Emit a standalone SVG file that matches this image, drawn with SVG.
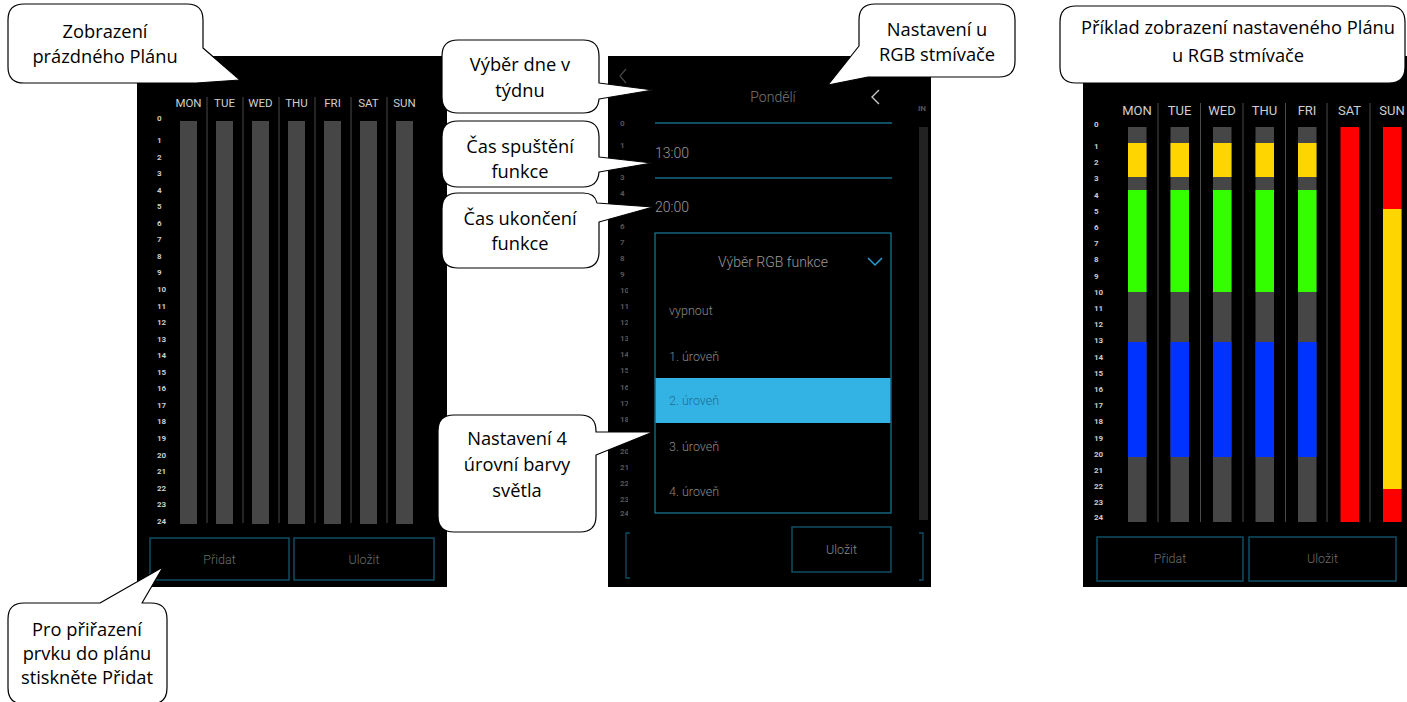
<svg xmlns="http://www.w3.org/2000/svg" width="1407" height="702" viewBox="0 0 1407 702">
<defs>
<style>
.panel{fill:#000}
.hdr{font-family:Roboto,"Liberation Sans",sans-serif;font-size:11.5px;fill:#cfcfcf;text-anchor:middle}
.hdr2{font-family:Roboto,"Liberation Sans",sans-serif;font-size:13px;fill:#cfcfcf;text-anchor:middle}
.hr{font-family:Roboto,"Liberation Sans",sans-serif;font-size:8px;font-weight:bold;fill:#cccccc}
.hrm{font-family:Roboto,"Liberation Sans",sans-serif;font-size:8px;font-weight:bold;fill:#555}
.bar{fill:#464646}
.sep{stroke:#4a4a4a;stroke-width:1}
.btn{fill:none;stroke:#0f4f63;stroke-width:1.5}
.btxt{font-family:Roboto,"Liberation Sans",sans-serif;font-size:12.5px;font-weight:300;fill:#6e6e6e;text-anchor:middle}
.ui{font-family:Roboto,"Liberation Sans",sans-serif;font-size:14px;font-weight:300;fill:#9a9a9a}
.li{font-family:Roboto,"Liberation Sans",sans-serif;font-size:12.5px;font-weight:300;fill:#8a8a8a}
.co{fill:#fff;stroke:#000;stroke-width:1.2;stroke-linejoin:round}
.ct{font-family:"Open Sans","Liberation Sans",sans-serif;font-size:18.3px;fill:#000;text-anchor:middle}
.y{fill:#ffd500}.g{fill:#33ff00}.b{fill:#0033ff}.r{fill:#ff0000}
</style>
<clipPath id="hclip"><rect x="600" y="100" width="28" height="430"/></clipPath>
</defs>
<rect width="1407" height="702" fill="#fff"/>

<!-- LEFT PANEL -->
<g id="panel-empty">
<rect class="panel" x="137" y="56" width="310" height="531"/>
<g>
<text class="hdr" x="188.5" y="107">MON</text>
<text class="hdr" x="224.5" y="107">TUE</text>
<text class="hdr" x="260.5" y="107">WED</text>
<text class="hdr" x="296.5" y="107">THU</text>
<text class="hdr" x="332.5" y="107">FRI</text>
<text class="hdr" x="368.5" y="107">SAT</text>
<text class="hdr" x="404.5" y="107">SUN</text>
</g>
<g>
<line class="sep" x1="207" y1="97" x2="207" y2="523"/>
<line class="sep" x1="243" y1="97" x2="243" y2="523"/>
<line class="sep" x1="279" y1="97" x2="279" y2="523"/>
<line class="sep" x1="315" y1="97" x2="315" y2="523"/>
<line class="sep" x1="351" y1="97" x2="351" y2="523"/>
<line class="sep" x1="387" y1="97" x2="387" y2="523"/>
</g>
<g>
<rect class="bar" x="180" y="121" width="17" height="403"/>
<rect class="bar" x="216" y="121" width="17" height="403"/>
<rect class="bar" x="252" y="121" width="17" height="403"/>
<rect class="bar" x="288" y="121" width="17" height="403"/>
<rect class="bar" x="324" y="121" width="17" height="403"/>
<rect class="bar" x="360" y="121" width="17" height="403"/>
<rect class="bar" x="396" y="121" width="17" height="403"/>
</g>
<g>
<text class="hr" x="157" y="121">0</text>
<text class="hr" x="157" y="143">1</text>
<text class="hr" x="157" y="159.6">2</text>
<text class="hr" x="157" y="176.1">3</text>
<text class="hr" x="157" y="192.7">4</text>
<text class="hr" x="157" y="209.2">5</text>
<text class="hr" x="157" y="225.8">6</text>
<text class="hr" x="157" y="242.3">7</text>
<text class="hr" x="157" y="258.9">8</text>
<text class="hr" x="157" y="275.4">9</text>
<text class="hr" x="157" y="292">10</text>
<text class="hr" x="157" y="308.5">11</text>
<text class="hr" x="157" y="325.1">12</text>
<text class="hr" x="157" y="341.6">13</text>
<text class="hr" x="157" y="358.2">14</text>
<text class="hr" x="157" y="374.7">15</text>
<text class="hr" x="157" y="391.3">16</text>
<text class="hr" x="157" y="407.8">17</text>
<text class="hr" x="157" y="424.4">18</text>
<text class="hr" x="157" y="440.9">19</text>
<text class="hr" x="157" y="457.5">20</text>
<text class="hr" x="157" y="474">21</text>
<text class="hr" x="157" y="490.6">22</text>
<text class="hr" x="157" y="507.1">23</text>
<text class="hr" x="157" y="524">24</text>
</g>
<rect class="btn" x="150" y="538" width="139" height="42"/>
<text class="btxt" x="219.5" y="564">Přidat</text>
<rect class="btn" x="294" y="538" width="140" height="42"/>
<text class="btxt" x="364" y="564">Uložit</text>
</g>

<!-- MIDDLE PANEL -->
<g id="panel-settings">
<rect class="panel" x="608" y="56" width="323" height="531"/>
<polyline points="626,69 620,76 626,83" fill="none" stroke="#444" stroke-width="1.3"/>
<text class="ui" x="773" y="102" text-anchor="middle" style="fill:#777">Pondělí</text>
<polyline points="879,90 872,97 879,104" fill="none" stroke="#c8c8c8" stroke-width="1.4"/>
<text x="918" y="111" style="font-family:Roboto,'Liberation Sans',sans-serif;font-size:8px;font-weight:bold;fill:#555">IN</text>
<rect x="919" y="127" width="9" height="393" fill="#222"/>
<g clip-path="url(#hclip)">
<text class="hrm" x="620" y="126">0</text>
<text class="hrm" x="620" y="148">1</text>
<text class="hrm" x="620" y="164.1">2</text>
<text class="hrm" x="620" y="180.2">3</text>
<text class="hrm" x="620" y="196.3">4</text>
<text class="hrm" x="620" y="212.4">5</text>
<text class="hrm" x="620" y="228.5">6</text>
<text class="hrm" x="620" y="244.6">7</text>
<text class="hrm" x="620" y="260.7">8</text>
<text class="hrm" x="620" y="276.8">9</text>
<text class="hrm" x="620" y="292.9">10</text>
<text class="hrm" x="620" y="309">11</text>
<text class="hrm" x="620" y="325.1">12</text>
<text class="hrm" x="620" y="341.2">13</text>
<text class="hrm" x="620" y="357.3">14</text>
<text class="hrm" x="620" y="373.4">15</text>
<text class="hrm" x="620" y="389.5">16</text>
<text class="hrm" x="620" y="405.6">17</text>
<text class="hrm" x="620" y="421.7">18</text>
<text class="hrm" x="620" y="437.8">19</text>
<text class="hrm" x="620" y="453.9">20</text>
<text class="hrm" x="620" y="470">21</text>
<text class="hrm" x="620" y="486.1">22</text>
<text class="hrm" x="620" y="502.2">23</text>
<text class="hrm" x="620" y="516">24</text>
</g>
<line x1="655" y1="123" x2="892" y2="123" stroke="#1a6a85" stroke-width="1.5"/>
<text class="ui" x="655" y="158">13:00</text>
<line x1="655" y1="178" x2="892" y2="178" stroke="#1a6a85" stroke-width="1.5"/>
<text class="ui" x="655" y="212">20:00</text>
<rect x="655" y="233" width="236" height="280" fill="#000" stroke="#1a7a9a" stroke-width="1.2"/>
<text class="ui" x="773" y="267" text-anchor="middle">Výběr RGB funkce</text>
<polyline points="868,258 875,265 882,258" fill="none" stroke="#2a9fd0" stroke-width="1.5"/>
<text class="li" x="669" y="315">vypnout</text>
<text class="li" x="669" y="361">1. úroveň</text>
<rect x="655.6" y="378" width="234.8" height="45" fill="#33b3e3"/>
<text class="li" x="669" y="405" style="fill:#1f6f93">2. úroveň</text>
<text class="li" x="669" y="451">3. úroveň</text>
<text class="li" x="669" y="496">4. úroveň</text>
<path d="M630,533 H626 V578 H630" fill="none" stroke="#0f4f63" stroke-width="1.3"/>
<path d="M919,533 H923 V580 H919" fill="none" stroke="#0f4f63" stroke-width="1.3"/>
<rect class="btn" x="792" y="527" width="99" height="45"/>
<text class="btxt" x="841.5" y="554" style="fill:#8a8a8a">Uložit</text>
</g>

<!-- RIGHT PANEL -->
<g id="panel-example">
<rect class="panel" x="1083" y="56" width="324" height="531"/>
<g>
<text class="hdr2" x="1137" y="115">MON</text>
<text class="hdr2" x="1179.5" y="115">TUE</text>
<text class="hdr2" x="1222" y="115">WED</text>
<text class="hdr2" x="1264.5" y="115">THU</text>
<text class="hdr2" x="1307" y="115">FRI</text>
<text class="hdr2" x="1349.5" y="115">SAT</text>
<text class="hdr2" x="1392" y="115">SUN</text>
</g>
<g>
<line class="sep" x1="1158" y1="103" x2="1158" y2="522"/>
<line class="sep" x1="1200.5" y1="103" x2="1200.5" y2="522"/>
<line class="sep" x1="1243" y1="103" x2="1243" y2="522"/>
<line class="sep" x1="1285.5" y1="103" x2="1285.5" y2="522"/>
<line class="sep" x1="1327" y1="103" x2="1327" y2="522"/>
<line class="sep" x1="1370" y1="103" x2="1370" y2="522"/>
</g>
<g id="weekday-bars">
<g transform="translate(1128,0)">
<rect class="bar" x="0" y="127" width="18.5" height="395"/><rect class="y" x="0" y="143" width="18.5" height="34"/><rect class="g" x="0" y="190" width="18.5" height="102"/><rect class="b" x="0" y="342" width="18.5" height="115"/>
</g>
<g transform="translate(1170.5,0)">
<rect class="bar" x="0" y="127" width="18.5" height="395"/><rect class="y" x="0" y="143" width="18.5" height="34"/><rect class="g" x="0" y="190" width="18.5" height="102"/><rect class="b" x="0" y="342" width="18.5" height="115"/>
</g>
<g transform="translate(1213,0)">
<rect class="bar" x="0" y="127" width="18.5" height="395"/><rect class="y" x="0" y="143" width="18.5" height="34"/><rect class="g" x="0" y="190" width="18.5" height="102"/><rect class="b" x="0" y="342" width="18.5" height="115"/>
</g>
<g transform="translate(1255.5,0)">
<rect class="bar" x="0" y="127" width="18.5" height="395"/><rect class="y" x="0" y="143" width="18.5" height="34"/><rect class="g" x="0" y="190" width="18.5" height="102"/><rect class="b" x="0" y="342" width="18.5" height="115"/>
</g>
<g transform="translate(1298,0)">
<rect class="bar" x="0" y="127" width="18.5" height="395"/><rect class="y" x="0" y="143" width="18.5" height="34"/><rect class="g" x="0" y="190" width="18.5" height="102"/><rect class="b" x="0" y="342" width="18.5" height="115"/>
</g>
<rect class="r" x="1340.5" y="127" width="18.5" height="395"/>
<rect class="r" x="1383" y="127" width="18.5" height="395"/>
<rect class="y" x="1383" y="209" width="18.5" height="280"/>
</g>
<g>
<text class="hr" x="1094" y="127">0</text>
<text class="hr" x="1094" y="149">1</text>
<text class="hr" x="1094" y="165.2">2</text>
<text class="hr" x="1094" y="181.4">3</text>
<text class="hr" x="1094" y="197.6">4</text>
<text class="hr" x="1094" y="213.8">5</text>
<text class="hr" x="1094" y="230">6</text>
<text class="hr" x="1094" y="246.2">7</text>
<text class="hr" x="1094" y="262.4">8</text>
<text class="hr" x="1094" y="278.6">9</text>
<text class="hr" x="1094" y="294.8">10</text>
<text class="hr" x="1094" y="311">11</text>
<text class="hr" x="1094" y="327.2">12</text>
<text class="hr" x="1094" y="343.4">13</text>
<text class="hr" x="1094" y="359.6">14</text>
<text class="hr" x="1094" y="375.8">15</text>
<text class="hr" x="1094" y="392">16</text>
<text class="hr" x="1094" y="408.2">17</text>
<text class="hr" x="1094" y="424.4">18</text>
<text class="hr" x="1094" y="440.6">19</text>
<text class="hr" x="1094" y="456.8">20</text>
<text class="hr" x="1094" y="473">21</text>
<text class="hr" x="1094" y="489.2">22</text>
<text class="hr" x="1094" y="505.4">23</text>
<text class="hr" x="1094" y="520">24</text>
</g>
<rect class="btn" x="1097" y="537" width="146" height="44"/>
<text class="btxt" x="1170" y="563">Přidat</text>
<rect class="btn" x="1249" y="537" width="147" height="44"/>
<text class="btxt" x="1322.5" y="563">Uložit</text>
</g>

<!-- CALLOUTS (shape with pointer) -->
<g id="callout-empty-plan">
<path class="co" d="M24,4 H187 Q203,4 203,20 V48 L240,80 L196,83 H24 Q8,83 8,67 V20 Q8,4 24,4 Z"/>
<text class="ct" x="105" y="38">Zobrazení</text>
<text class="ct" x="105" y="63">prázdného Plánu</text>
</g>
<g id="callout-add">
<path class="co" d="M24,603 H100 L163,567 L142,603 H151 Q167,603 167,619 V688 Q167,704 151,704 H24 Q8,704 8,688 V619 Q8,603 24,603 Z"/>
<text class="ct" x="87" y="636">Pro přiřazení</text>
<text class="ct" x="87" y="660">prvku do plánu</text>
<text class="ct" x="87" y="684">stiskněte Přidat</text>
</g>
<g id="callout-day">
<path class="co" d="M458,40 H583 Q599,40 599,56 V83 L653,90 L599,99 Q598,113 583,113 H458 Q442,113 442,97 V56 Q442,40 458,40 Z"/>
<text class="ct" x="520" y="71">Výběr dne v</text>
<text class="ct" x="520" y="97">týdnu</text>
</g>
<g id="callout-start">
<path class="co" d="M458,121 H583 Q599,121 599,137 V157 L652,163 L599,172 Q598,187 583,187 H458 Q442,187 442,171 V137 Q442,121 458,121 Z"/>
<text class="ct" x="520" y="153">Čas spuštění</text>
<text class="ct" x="520" y="178">funkce</text>
</g>
<g id="callout-end">
<path class="co" d="M458,193 H583 Q595,193 597,203 L653,207 L599,222 V252 Q599,268 583,268 H458 Q442,268 442,252 V209 Q442,193 458,193 Z"/>
<text class="ct" x="520" y="225">Čas ukončení</text>
<text class="ct" x="520" y="250">funkce</text>
</g>
<g id="callout-levels">
<path class="co" d="M454,415 H580 Q596,415 596,431 V432 L653,432 L596,455 V516 Q596,532 580,532 H454 Q438,532 438,516 V431 Q438,415 454,415 Z"/>
<text class="ct" x="517" y="445">Nastavení 4</text>
<text class="ct" x="517" y="471">úrovní barvy</text>
<text class="ct" x="517" y="497">světla</text>
</g>
<g id="callout-rgb">
<path class="co" d="M875,4 H999 Q1015,4 1015,20 V61 Q1015,77 999,77 H868 L828,85 L859,46 V20 Q859,4 875,4 Z"/>
<text class="ct" x="937" y="36">Nastavení u</text>
<text class="ct" x="937" y="61">RGB stmívače</text>
</g>
<g id="callout-example">
<path class="co" d="M1076,6 H1389 Q1405,6 1405,22 V67 Q1405,83 1389,83 H1076 Q1060,83 1060,67 V22 Q1060,6 1076,6 Z"/>
<text class="ct" x="1238" y="34">Příklad zobrazení nastaveného Plánu</text>
<text class="ct" x="1238" y="62">u RGB stmívače</text>
</g>
<g id="connectors"/>
</svg>
